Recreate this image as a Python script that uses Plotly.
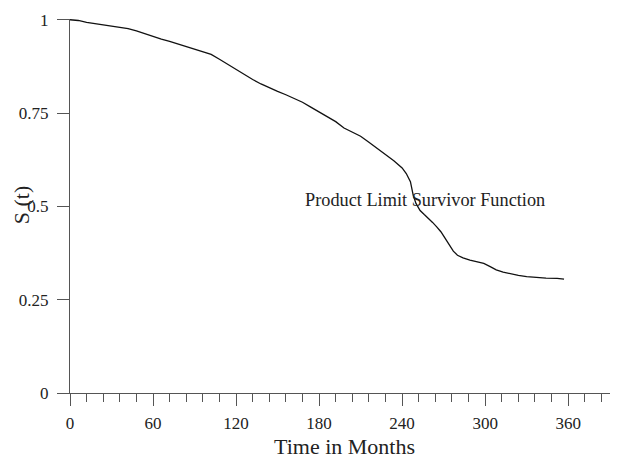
import plotly.graph_objects as go

# Kaplan-Meier product-limit estimate
months = [0, 6, 12, 18, 24, 30, 36, 42, 48, 54, 60, 66, 72, 78, 84, 90, 96, 102, 108, 114,
          120, 126, 132, 138, 144, 150, 156, 162, 168, 174, 180, 186, 192, 198, 204, 210,
          216, 222, 228, 234, 240, 243, 246, 248, 250, 253, 256, 259, 262, 265, 268, 271,
          274, 277, 280, 284, 289, 294, 299, 304, 308, 313, 318, 324, 330, 336, 344, 352, 357]
survival = [1.0, 0.998, 0.993, 0.990, 0.987, 0.984, 0.980, 0.976, 0.970, 0.962, 0.955, 0.948,
            0.942, 0.935, 0.929, 0.921, 0.915, 0.907, 0.894, 0.880, 0.866, 0.853, 0.840, 0.828,
            0.817, 0.808, 0.799, 0.790, 0.779, 0.766, 0.753, 0.740, 0.727, 0.710, 0.698, 0.688,
            0.672, 0.656, 0.640, 0.622, 0.603, 0.588, 0.566, 0.530, 0.508, 0.489, 0.478, 0.468,
            0.457, 0.445, 0.432, 0.415, 0.398, 0.380, 0.369, 0.362, 0.356, 0.352, 0.347, 0.338,
            0.330, 0.324, 0.319, 0.315, 0.312, 0.310, 0.308, 0.307, 0.305]

x_ticks = [0, 60, 120, 180, 240, 300, 360]
y_ticks = [0, 0.25, 0.5, 0.75, 1]
y_tick_labels = ["0", "0.25", "0.5", "0.75", "1"]

FONT = "Liberation Serif, Times New Roman, serif"
TXT = "#222222"
AX = "#555555"

fig = go.Figure()
fig.add_trace(go.Scatter(x=months, y=survival, mode="lines",
                         line=dict(color="#111111", width=1.3, shape="linear"),
                         showlegend=False, hoverinfo="skip"))

fig.update_layout(
    width=610, height=451,
    margin=dict(l=62, r=0, t=11, b=66),
    paper_bgcolor="white", plot_bgcolor="white",
    font=dict(family=FONT, color=TXT, size=17),
    xaxis=dict(range=[0, 396], tickvals=x_ticks, ticks="outside", ticklen=12,
               tickcolor=AX, tickwidth=1, showline=True, linecolor=AX, linewidth=1,
               showgrid=False, zeroline=False, ticklabelstandoff=3,
               tickfont=dict(family=FONT, size=17, color=TXT),
               minor=dict(dtick=12, tick0=0, ticks="outside", ticklen=8,
                          tickcolor=AX, tickwidth=1, showgrid=False)),
    yaxis=dict(range=[0, 1.002], tickvals=y_ticks, ticktext=y_tick_labels,
               ticks="outside", ticklen=12, tickcolor=AX, tickwidth=1,
               showline=True, linecolor=AX, linewidth=1, showgrid=False,
               zeroline=False, ticklabelstandoff=5,
               tickfont=dict(family=FONT, size=17, color=TXT)),
    annotations=[
        dict(text="Product Limit Survivor Function", x=256.5, y=0.516, xref="x", yref="y",
             showarrow=False, xanchor="center", yanchor="middle",
             font=dict(family=FONT, size=18.3, color=TXT)),
        dict(text="S (t)", x=-0.087, y=0.503, xref="paper", yref="paper", textangle=-90,
             showarrow=False, xanchor="center", yanchor="middle",
             font=dict(family=FONT, size=22, color=TXT)),
        dict(text="Time in Months", x=0.5, y=-0.144, xref="paper", yref="paper",
             showarrow=False, xanchor="center", yanchor="middle",
             font=dict(family=FONT, size=22, color=TXT)),
    ],
)

fig.write_html("out.html")
